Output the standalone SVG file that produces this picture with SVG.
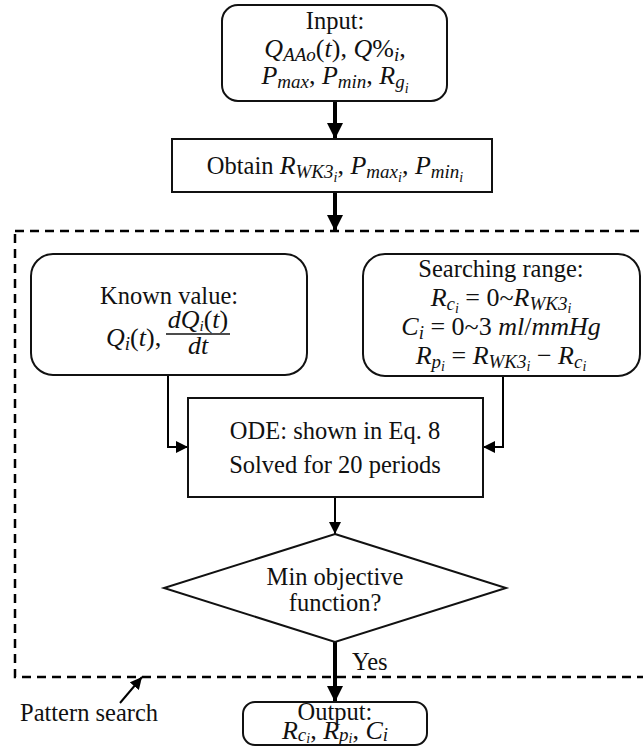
<svg xmlns="http://www.w3.org/2000/svg" width="643" height="746" viewBox="0 0 643 746">
<style>
text{font-family:'Liberation Serif','Times New Roman',serif;fill:#111}
.box{fill:#fff;stroke:#111;stroke-width:2}
.t{font-size:24.5px;text-anchor:middle}
.tl{font-size:24.5px}
.m{font-size:26px;font-style:italic;text-anchor:middle}
.u{font-style:normal}
.s{font-size:19px}
.ss{font-size:14px}
.thick{stroke:#000;stroke-width:4;fill:none}
.thin{stroke:#000;stroke-width:2;fill:none}
.dash{stroke:#000;stroke-width:2.5;fill:none;stroke-dasharray:9 6}
</style>
<defs>
<marker id="ah" markerUnits="userSpaceOnUse" markerWidth="16" markerHeight="16" viewBox="0 0 16 16" refX="16" refY="8" orient="auto">
<polygon points="0,0 16,8 0,16" fill="#000"/>
</marker>
<marker id="as" markerUnits="userSpaceOnUse" markerWidth="12" markerHeight="12" viewBox="0 0 12 12" refX="12" refY="6" orient="auto">
<polygon points="0,0 12,6 0,12" fill="#000"/>
</marker>
</defs>

<g id="pattern-search">
<rect x="15" y="231" width="640" height="446" class="dash"/>
<text x="20" y="721" class="tl">Pattern search</text>
<line x1="120" y1="703" x2="142" y2="677" class="thin" marker-end="url(#as)"/>
</g>

<g id="connectors">
<line x1="335" y1="101" x2="335" y2="139" class="thick" marker-end="url(#ah)"/>
<line x1="335" y1="192" x2="335" y2="231" class="thick" marker-end="url(#ah)"/>
<polyline points="168,376 168,447 188,447" class="thin" marker-end="url(#as)"/>
<polyline points="503,376 503,447 483,447" class="thin" marker-end="url(#as)"/>
<line x1="335" y1="497" x2="335" y2="534" class="thin" marker-end="url(#as)"/>
<line x1="335" y1="642" x2="335" y2="702" class="thick" marker-end="url(#ah)"/>
<text x="352" y="670" class="tl">Yes</text>
</g>

<g id="input">
<rect x="222" y="5" width="225" height="96" rx="16" class="box"/>
<text x="335" y="29" class="t">Input:</text>
<text x="335" y="57" class="m">Q<tspan class="s" dy="4">AAo</tspan><tspan class="u" dy="-4">(</tspan>t<tspan class="u">), </tspan>Q<tspan class="u">%</tspan><tspan class="s" dy="4">i</tspan><tspan class="u" dy="-4">,</tspan></text>
<text x="335" y="84" class="m">P<tspan class="s" dy="4">max</tspan><tspan class="u" dy="-4">, </tspan>P<tspan class="s" dy="4">min</tspan><tspan class="u" dy="-4">, </tspan>R<tspan class="s" dy="4">g</tspan><tspan class="ss" dy="5">i</tspan></text>
</g>

<g id="obtain">
<rect x="172" y="139" width="320" height="53" class="box"/>
<text x="335" y="174" class="m"><tspan class="u" font-size="24.5">Obtain </tspan>R<tspan class="s" dy="4">WK3</tspan><tspan class="ss" dy="4">i</tspan><tspan class="u" dy="-8">, </tspan>P<tspan class="s" dy="4">max</tspan><tspan class="ss" dy="4">i</tspan><tspan class="u" dy="-8">, </tspan>P<tspan class="s" dy="4">min</tspan><tspan class="ss" dy="4">i</tspan></text>
</g>

<g id="known-value">
<rect x="31" y="254" width="276" height="121" rx="22" class="box"/>
<text x="169" y="304" class="t">Known value:</text>
<text x="106" y="346" font-size="26" font-style="italic">Q<tspan class="s" dy="4">i</tspan><tspan class="u" dy="-4">(</tspan>t<tspan class="u">),</tspan></text>
<text x="198" y="328" class="m" font-size="21">dQ<tspan font-size="15" dy="3">i</tspan><tspan class="u" dy="-3">(</tspan>t<tspan class="u">)</tspan></text>
<line x1="166" y1="334" x2="230" y2="334" stroke="#111" stroke-width="1.3"/>
<text x="198" y="354" class="m" font-size="21">dt</text>
</g>

<g id="searching-range">
<rect x="363" y="254" width="277" height="122" rx="22" class="box"/>
<text x="501" y="277" class="t">Searching range:</text>
<text x="501" y="306" class="m">R<tspan class="s" dy="4">c</tspan><tspan class="ss" dy="3">i</tspan><tspan class="u" dy="-7"> = 0~</tspan>R<tspan class="s" dy="4">WK3</tspan><tspan class="ss" dy="3">i</tspan></text>
<text x="501" y="335" class="m">C<tspan class="s" dy="4">i</tspan><tspan class="u" dy="-4"> = 0~3 </tspan>ml<tspan class="u">/</tspan>mmHg</text>
<text x="501" y="364" class="m">R<tspan class="s" dy="4">p</tspan><tspan class="ss" dy="3">i</tspan><tspan class="u" dy="-7"> = </tspan>R<tspan class="s" dy="4">WK3</tspan><tspan class="ss" dy="3">i</tspan><tspan class="u" dy="-7"> − </tspan>R<tspan class="s" dy="4">c</tspan><tspan class="ss" dy="3">i</tspan></text>
</g>

<g id="ode">
<rect x="188" y="398" width="295" height="99" class="box"/>
<text x="335" y="439" class="t">ODE: shown in Eq. 8</text>
<text x="335" y="473" class="t">Solved for 20 periods</text>
</g>

<g id="decision">
<polygon points="335,534 506,588 335,642 164,588" class="box"/>
<text x="335" y="585" class="t">Min objective</text>
<text x="335" y="611" class="t">function?</text>
</g>

<g id="output">
<rect x="243" y="702" width="184" height="43" rx="12" class="box"/>
<text x="335" y="720" class="t" font-size="21">Output:</text>
<text x="335" y="739" class="m" font-size="22">R<tspan class="s" font-size="15" dy="2">c</tspan><tspan class="ss" font-size="11" dy="2">i</tspan><tspan class="u" dy="-4">, </tspan>R<tspan class="s" font-size="15" dy="2">p</tspan><tspan class="ss" font-size="11" dy="2">i</tspan><tspan class="u" dy="-4">, </tspan>C<tspan class="s" font-size="15" dy="2">i</tspan></text>
</g>
</svg>
